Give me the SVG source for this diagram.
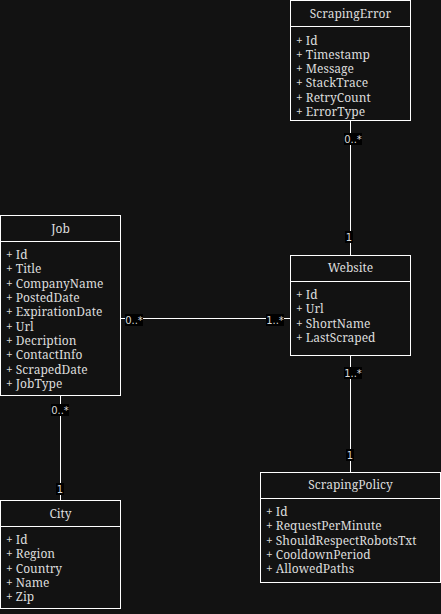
<svg xmlns="http://www.w3.org/2000/svg" width="441" height="614" viewBox="0 0 441 614">
  <style>
    .box { fill: #121212; stroke: #ffffff; stroke-width: 1; }
    .sep { stroke: #ffffff; stroke-width: 1; }
    .title, .attr { font-family: "Noto Serif", "DejaVu Serif", serif; font-size: 12px; font-weight: 400; fill: #dcdcdc; dominant-baseline: central; }
    .title { text-anchor: middle; }
    .edge { stroke: #ffffff; stroke-width: 1; fill: none; }
    .mbg { fill: #000000; }
    .mult { font-family: "DejaVu Sans", "Liberation Sans", sans-serif; font-size: 10px; fill: #d8d8d8; text-anchor: middle; dominant-baseline: central; }
  </style>
  <rect width="441" height="614" fill="#121212"/>

  <!-- associations -->
  <g id="connectors">
    <line class="edge" x1="350.5" y1="120.5" x2="350.5" y2="255.5"/>
    <line class="edge" x1="120.5" y1="318.5" x2="290.5" y2="318.5"/>
    <line class="edge" x1="350.5" y1="355.5" x2="350.5" y2="472.5"/>
    <line class="edge" x1="60.5" y1="395.5" x2="60.5" y2="500.5"/>

    <rect class="mbg" x="344" y="133" width="18" height="12"/>
    <text class="mult" x="353" y="139">0..*</text>
    <rect class="mbg" x="345" y="231" width="8" height="12"/>
    <text class="mult" x="349" y="237">1</text>

    <rect class="mbg" x="125" y="314" width="18" height="12"/>
    <text class="mult" x="134" y="320">0..*</text>
    <rect class="mbg" x="266" y="314" width="18" height="12"/>
    <text class="mult" x="275" y="320">1..*</text>

    <rect class="mbg" x="344" y="367" width="18" height="12"/>
    <text class="mult" x="353" y="373">1..*</text>
    <rect class="mbg" x="346" y="449" width="8" height="12"/>
    <text class="mult" x="350" y="455">1</text>

    <rect class="mbg" x="51" y="404" width="18" height="12"/>
    <text class="mult" x="60" y="410">0..*</text>
    <rect class="mbg" x="56" y="483" width="8" height="12"/>
    <text class="mult" x="60" y="489">1</text>
  </g>

  <g id="ScrapingError">
    <rect class="box" x="290.5" y="0.5" width="120" height="120"/>
    <line class="sep" x1="290.5" y1="26.5" x2="410.5" y2="26.5"/>
    <text class="title" x="350.5" y="13">ScrapingError</text>
    <text class="attr" x="296" y="40">+ Id</text>
    <text class="attr" x="296" y="54">+ Timestamp</text>
    <text class="attr" x="296" y="68.5">+ Message</text>
    <text class="attr" x="296" y="82.5">+ StackTrace</text>
    <text class="attr" x="296" y="97">+ RetryCount</text>
    <text class="attr" x="296" y="111">+ ErrorType</text>
  </g>

  <g id="Job">
    <rect class="box" x="0.5" y="215.5" width="120" height="180"/>
    <line class="sep" x1="0.5" y1="241.5" x2="120.5" y2="241.5"/>
    <text class="title" x="60.5" y="228">Job</text>
    <text class="attr" x="6" y="254.5">+ Id</text>
    <text class="attr" x="6" y="268.5">+ Title</text>
    <text class="attr" x="6" y="283">+ CompanyName</text>
    <text class="attr" x="6" y="297">+ PostedDate</text>
    <text class="attr" x="6" y="311.5">+ ExpirationDate</text>
    <text class="attr" x="6" y="326">+ Url</text>
    <text class="attr" x="6" y="340">+ Decription</text>
    <text class="attr" x="6" y="354.5">+ ContactInfo</text>
    <text class="attr" x="6" y="369">+ ScrapedDate</text>
    <text class="attr" x="6" y="383">+ JobType</text>
  </g>

  <g id="Website">
    <rect class="box" x="290.5" y="255.5" width="120" height="100"/>
    <line class="sep" x1="290.5" y1="281.5" x2="410.5" y2="281.5"/>
    <text class="title" x="350.5" y="267.5">Website</text>
    <text class="attr" x="296" y="294.5">+ Id</text>
    <text class="attr" x="296" y="308.5">+ Url</text>
    <text class="attr" x="296" y="323">+ ShortName</text>
    <text class="attr" x="296" y="337.5">+ LastScraped</text>
  </g>

  <g id="ScrapingPolicy">
    <rect class="box" x="260.5" y="472.5" width="180" height="110"/>
    <line class="sep" x1="260.5" y1="498.5" x2="440.5" y2="498.5"/>
    <text class="title" x="350.5" y="484.5">ScrapingPolicy</text>
    <text class="attr" x="266" y="511">+ Id</text>
    <text class="attr" x="266" y="525.5">+ RequestPerMinute</text>
    <text class="attr" x="266" y="540">+ ShouldRespectRobotsTxt</text>
    <text class="attr" x="266" y="554">+ CooldownPeriod</text>
    <text class="attr" x="266" y="568.5">+ AllowedPaths</text>
  </g>

  <g id="City">
    <rect class="box" x="0.5" y="500.5" width="120" height="108"/>
    <line class="sep" x1="0.5" y1="526.5" x2="120.5" y2="526.5"/>
    <text class="title" x="60.5" y="513">City</text>
    <text class="attr" x="6" y="539.5">+ Id</text>
    <text class="attr" x="6" y="553.5">+ Region</text>
    <text class="attr" x="6" y="568">+ Country</text>
    <text class="attr" x="6" y="582">+ Name</text>
    <text class="attr" x="6" y="596.5">+ Zip</text>
  </g>
</svg>
